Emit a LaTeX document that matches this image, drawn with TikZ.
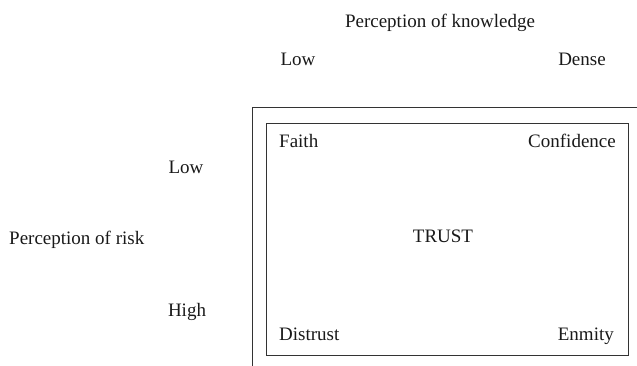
\documentclass[tikz,border=0pt]{standalone}
\usepackage{fontspec}
\setmainfont{Liberation Serif}
\begin{document}
\begin{tikzpicture}[x=1pt,y=-1pt,
  lbl/.style={inner sep=0pt,font=\fontsize{19}{22}\selectfont,text=black!90},
  frame/.style={draw=black!80,line width=0.9pt}]
\useasboundingbox (0,0) rectangle (637,366);
% outer frame (open)
\coordinate (ob) at (252,366);
\coordinate (oc) at (252,107);
\coordinate (or) at (637,107);
\draw[frame] (ob) -- (oc) -- (or);
% inner box
\node[frame,inner sep=0pt,minimum width=362pt,minimum height=232pt,anchor=north west] (box) at (266,123) {};
% headers
\node[lbl,anchor=base] (pk) at (440,28) {Perception of knowledge};
\node[lbl,anchor=base] (klow) at (298,66) {Low};
\node[lbl,anchor=base] (kdense) at (582,66) {Dense};
\node[lbl,anchor=base] (rlow) at (186,174) {Low};
\node[lbl,anchor=base west] (pr) at (9,244) {Perception of risk};
\node[lbl,anchor=base] (rhigh) at (187,316) {High};
% cells
\node[lbl,anchor=base west] (faith) at (279,148) {Faith};
\node[lbl,anchor=base east] (conf) at (616,148) {Confidence};
\node[lbl,anchor=base] (trust) at (443,243) {TRUST};
\node[lbl,anchor=base west] (distrust) at (279,340) {Distrust};
\node[lbl,anchor=base east] (enmity) at (614,340) {Enmity};
\end{tikzpicture}
\end{document}
